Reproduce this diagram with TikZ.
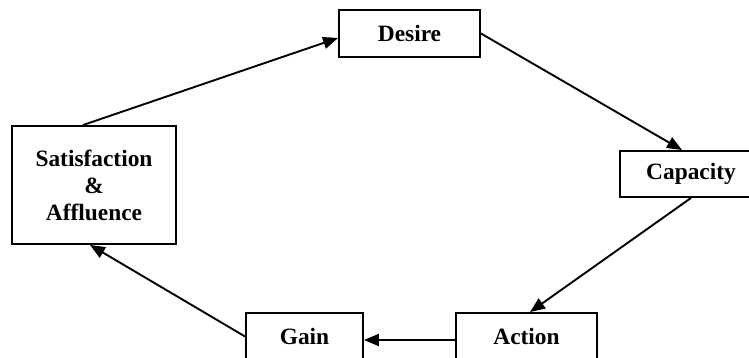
\documentclass[tikz,border=0pt]{standalone}
\usepackage{fontspec}
\setmainfont{Liberation Serif}
\usetikzlibrary{arrows.meta}
\begin{document}
\begin{tikzpicture}[x=1pt,y=-1pt,
  box/.style={draw,line width=1.9pt,inner sep=0pt,align=center,
    font=\fontsize{23.4}{27}\selectfont\bfseries},
  arr/.style={line width=1.9pt,-{Triangle[length=15pt,width=12pt]}}]
\useasboundingbox (0,0) rectangle (749,358);
\clip (0,0) rectangle (749,358);
\node[box,minimum width=141pt,minimum height=47pt] (desire) at (409.5,33.5) {Desire};
\node[box,minimum width=142pt,minimum height=46pt] (capacity) at (691,174) {Capacity};
\node[box,minimum width=141pt,minimum height=47pt] (action) at (526.5,336.5) {Action};
\node[box,minimum width=117pt,minimum height=47pt] (gain) at (304.5,336.5) {Gain};
\node[box,minimum width=164pt,minimum height=118pt] (sat) at (94,185) {Satisfaction\\\&\\Affluence};
\draw[arr] ([xshift=-11pt]sat.north) -- ([yshift=-4.5pt]desire.west);
\draw[arr] (desire.east) -- ([xshift=-9pt]capacity.north);
\draw[arr] (capacity.south) -- ([xshift=3.5pt]action.north);
\draw[arr] ([yshift=-3.5pt]action.west) -- ([yshift=-3.5pt]gain.east);
\draw[arr] (gain.west) -- ([xshift=-4pt]sat.south);
\end{tikzpicture}
\end{document}
